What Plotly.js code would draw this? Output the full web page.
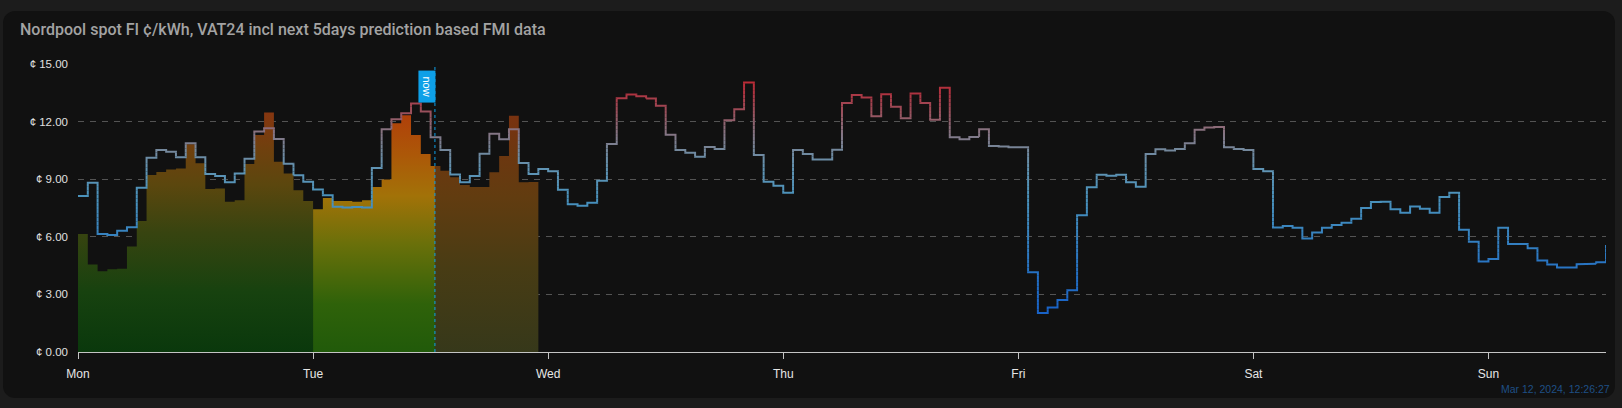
<!DOCTYPE html>
<html><head><meta charset="utf-8">
<script src="https://cdn.plot.ly/plotly-3.0.1.min.js"></script>
<style>
html,body{margin:0;padding:0;background:#1c1c1c;width:1622px;height:408px;overflow:hidden;}
#card{position:absolute;left:3px;top:11px;width:1612px;height:387px;background:#111111;border-radius:12px;}
#chart{position:absolute;left:0;top:0;width:1622px;height:408px;}
</style></head><body>
<div id="card"></div><div id="chart"></div>
<script>
// ---------- data ----------
const titleText = 'Nordpool spot FI ¢/kWh, VAT24 incl next 5days prediction based FMI data';
const dayLabels = ['Mon', 'Tue', 'Wed', 'Thu', 'Fri', 'Sat', 'Sun'];
const dayDates = ['2024-03-11', '2024-03-12', '2024-03-13', '2024-03-14', '2024-03-15', '2024-03-16', '2024-03-17'];
const rangeStart = '2024-03-11 00:00:00';
const rangeEnd = '2024-03-17 12:00:00';
const nowTime = '2024-03-12 12:26:27';
const stampText = 'Mar 12, 2024, 12:26:27';
const yTicks = [0, 3, 6, 9, 12, 15];
const yTickPrefix = '¢ ';

// Nordpool actual spot prices (hourly, c/kWh)
const priceMon = [6.15, 4.56, 4.21, 4.31, 4.33, 5.5, 6.82, 9.22, 9.37, 9.51, 9.56, 10.82, 9.83, 8.49, 8.52, 7.83, 7.91, 9.79, 11.3, 12.47, 9.91, 9.3, 8.42, 7.86];
const priceTue = [7.43, 8.02, 7.86, 7.86, 7.83, 7.9, 8.59, 8.99, 11.91, 12.33, 11.3, 10.31, 9.69, 9.44, 9.1, 8.7, 8.59, 8.59, 9.36, 10.21, 12.3, 8.84, 8.85, 8.85];

// FMI based prediction (hourly, c/kWh)
const predMon = [8.12, 8.82, 6.14, 6.1, 6.31, 6.5, 8.56, 10.12, 10.52, 10.43, 10.14, 10.87, 10.14, 9.27, 9.17, 8.84, 9.3, 10.07, 11.48, 11.65, 11.1, 9.81, 9.2, 8.87];
const predTue = [8.47, 8.16, 7.56, 7.52, 7.55, 7.52, 9.58, 11.6, 12.12, 12.43, 12.94, 12.52, 11.18, 10.52, 9.25, 8.84, 9.17, 10.33, 11.37, 11.08, 11.6, 9.85, 9.27, 9.53];
const predWed = [9.41, 8.45, 7.69, 7.62, 7.77, 8.92, 10.83, 13.22, 13.41, 13.32, 13.2, 12.82, 11.32, 10.52, 10.38, 10.17, 10.68, 10.57, 12.07, 12.64, 14.03, 10.26, 8.87, 8.66];
const predThu = [8.3, 10.52, 10.31, 10.03, 10.03, 10.54, 12.97, 13.39, 13.25, 12.28, 13.43, 12.77, 12.18, 13.46, 12.97, 12.09, 13.76, 11.18, 11.08, 11.2, 11.6, 10.73, 10.7, 10.66];
const predFri = [10.66, 4.16, 2.03, 2.32, 2.71, 3.22, 7.12, 8.58, 9.23, 9.18, 9.23, 8.84, 8.61, 10.31, 10.56, 10.49, 10.57, 10.87, 11.57, 11.69, 11.72, 10.66, 10.57, 10.52];
const predSat = [9.53, 9.41, 6.49, 6.56, 6.47, 5.91, 6.23, 6.47, 6.61, 6.73, 6.94, 7.5, 7.81, 7.82, 7.43, 7.25, 7.58, 7.46, 7.25, 8.07, 8.3, 6.37, 5.74, 4.71];
const predSun = [4.84, 6.47, 5.62, 5.63, 5.41, 4.77, 4.56, 4.4, 4.4, 4.57, 4.6, 4.68, 5.57];

// ---------- helpers ----------
const HOUR = 3600000;
const t0 = Date.parse(rangeStart.replace(' ', 'T') + 'Z');
const fmt = ms => new Date(ms).toISOString().replace('T', ' ').slice(0, 19);
const hourTime = h => fmt(t0 + h * HOUR);
const nowH = (Date.parse(nowTime.replace(' ', 'T') + 'Z') - t0) / HOUR;

const price = priceMon.concat(priceTue);
const pred = predMon.concat(predTue, predWed, predThu, predFri, predSat, predSun);

// ---------- area (actual prices) split: yesterday / today before now / after now ----------
const iNow = Math.floor(nowH);
function seg(hs, vs) { return { x: hs.map(hourTime), y: vs }; }
const hMon = [], vMon = [];
for (let h = 0; h <= 24; h++) { hMon.push(h); vMon.push(price[h]); }
const hAm = [], vAm = [];
for (let h = 24; h <= iNow; h++) { hAm.push(h); vAm.push(price[h]); }
hAm.push(nowH); vAm.push(price[iNow]);
const hPm = [nowH], vPm = [price[iNow]];
for (let h = iNow + 1; h < price.length; h++) { hPm.push(h); vPm.push(price[h]); }

const gradMon = [[0, '#0a380c'], [0.25, '#17420f'], [0.5, '#384410'], [0.7, '#5c470e'], [0.85, '#70400e'], [1, '#863610']];
const gradAm = [[0, '#215a0a'], [0.2, '#2f620a'], [0.45, '#6a700a'], [0.65, '#a27208'], [0.82, '#ac5808'], [1, '#b03e0a']];
const gradPm = [[0, '#36381a'], [0.35, '#483c14'], [0.65, '#623c10'], [0.82, '#6c3710'], [1, '#7a3210']];

function areaTrace(s, grad) {
  return {
    type: 'scatter', mode: 'lines', x: s.x, y: s.y,
    line: { shape: 'hv', width: 0, color: 'rgba(0,0,0,0)' },
    fill: 'tozeroy',
    fillgradient: { type: 'vertical', colorscale: grad, start: 0, stop: 12.5 },
    hoverinfo: 'skip', showlegend: false
  };
}
const traces = [
  areaTrace(seg(hMon, vMon), gradMon),
  areaTrace(seg(hAm, vAm), gradAm),
  areaTrace(seg(hPm, vPm), gradPm)
];

// ---------- prediction line with value-based gradient ----------
const lineStops = [[0, '#1560cc'], [2, '#1862c8'], [4, '#2470c4'], [6, '#3682c0'], [8, '#4a92bc'], [9.5, '#6094b4'], [10.5, '#74889c'], [11.5, '#88727f'], [12.5, '#9a505c'], [13.5, '#ae3340'], [14.5, '#c42830']];
function hex2rgb(h) { return [1, 3, 5].map(i => parseInt(h.substr(i, 2), 16)); }
function colorAt(v) {
  if (v <= lineStops[0][0]) return lineStops[0][1];
  for (let i = 1; i < lineStops.length; i++) {
    if (v <= lineStops[i][0]) {
      const a = lineStops[i - 1], b = lineStops[i];
      const f = (v - a[0]) / (b[0] - a[0]);
      const ca = hex2rgb(a[1]), cb = hex2rgb(b[1]);
      return 'rgb(' + ca.map((c, k) => Math.round(c + (cb[k] - c) * f)).join(',') + ')';
    }
  }
  return lineStops[lineStops.length - 1][1];
}
const STEP = 0.2;
const pts = [];
for (let i = 0; i < pred.length; i++) {
  pts.push([i, pred[i]]);
  if (i < pred.length - 1) pts.push([i + 1, pred[i]]);
}
const buckets = {};
let curK = null, cur = [];
function flush() {
  if (curK === null || cur.length < 2) return;
  if (!buckets[curK]) buckets[curK] = { x: [], y: [] };
  const b = buckets[curK];
  cur.forEach(p => { b.x.push(hourTime(p[0])); b.y.push(p[1]); });
  b.x.push(null); b.y.push(null);
}
function addPiece(a, b) {
  const k = Math.floor(((a[1] + b[1]) / 2) / STEP);
  if (k === curK) { cur.push(b); }
  else { flush(); curK = k; cur = [a, b]; }
}
for (let i = 0; i < pts.length - 1; i++) {
  const a = pts[i], b = pts[i + 1];
  if (a[1] === b[1] || a[0] !== b[0]) { addPiece(a, b); continue; }
  const lo = Math.min(a[1], b[1]), hi = Math.max(a[1], b[1]);
  const jLo = Math.floor(lo / STEP) + 1, jHi = Math.ceil(hi / STEP) - 1;
  const cuts = [];
  for (let j = jLo; j <= jHi; j++) { const c = j * STEP; if (c > lo + 1e-9 && c < hi - 1e-9) cuts.push(c); }
  if (b[1] < a[1]) cuts.reverse();
  const vals = [a[1]].concat(cuts, [b[1]]);
  for (let m = 0; m < vals.length - 1; m++) addPiece([a[0], vals[m]], [a[0], vals[m + 1]]);
}
flush();
Object.keys(buckets).forEach(k => {
  traces.push({
    type: 'scatter', mode: 'lines', x: buckets[k].x, y: buckets[k].y,
    line: { color: colorAt((+k + 0.5) * STEP), width: 2 },
    connectgaps: false, hoverinfo: 'skip', showlegend: false
  });
});

// ---------- layout ----------
const W = 1622, H = 408;
const layout = {
  width: W, height: H,
  margin: { l: 78, r: 16, t: 64, b: 56, pad: 0 },
  paper_bgcolor: 'rgba(0,0,0,0)', plot_bgcolor: 'rgba(0,0,0,0)',
  showlegend: false,
  title: {
    text: titleText, xref: 'container', yref: 'container',
    x: 20 / W, xanchor: 'left', y: 1 - 29.5 / H, yanchor: 'middle',
    font: { family: 'Roboto, sans-serif', size: 16, color: '#a3a3a3', weight: 500 }
  },
  xaxis: {
    type: 'date', range: [rangeStart, rangeEnd],
    tickmode: 'array', tickvals: dayDates, ticktext: dayLabels,
    showgrid: false, zeroline: false,
    showline: true, linecolor: '#c4c4c4', linewidth: 1,
    ticks: 'outside', ticklen: 6, tickcolor: '#c4c4c4', tickwidth: 1,
    ticklabelstandoff: 5,
    tickfont: { family: 'Liberation Sans, Arial, sans-serif', size: 12, color: '#e6e6e6' },
    fixedrange: true
  },
  yaxis: {
    range: [0, 15], tickmode: 'array', tickvals: yTicks,
    ticktext: yTicks.map(v => yTickPrefix + v.toFixed(2)),
    showgrid: true, gridcolor: '#545454', gridwidth: 1, griddash: '6px,6px',
    zeroline: false, showline: false, ticks: '',
    ticklabelstandoff: 9,
    tickfont: { family: 'Liberation Sans, Arial, sans-serif', size: 11.5, color: '#e0e0e0' },
    fixedrange: true
  },
  shapes: [{
    type: 'line', xref: 'x', yref: 'paper', x0: nowTime, x1: nowTime, y0: 0, y1: 1,
    line: { color: '#0ea0e8', width: 1, dash: 'dot' }
  }],
  annotations: [
    {
      text: 'now', xref: 'x', yref: 'paper', x: nowTime, y: 1,
      xanchor: 'right', yanchor: 'top', xshift: 1, yshift: -7,
      textangle: 90, showarrow: false,
      bgcolor: '#0ea0e8', bordercolor: '#0ea0e8', borderwidth: 0, borderpad: 2,
      width: 28, height: 13,
      font: { family: 'Liberation Sans, Arial, sans-serif', size: 11, color: '#ffffff' }
    },
    {
      text: stampText, xref: 'paper', yref: 'paper',
      x: (1611.7 - 78) / (W - 78 - 16), y: -(389 - 352) / (H - 64 - 56),
      xanchor: 'right', yanchor: 'middle', showarrow: false,
      font: { family: 'Liberation Sans, Arial, sans-serif', size: 10.5, color: '#1e4f85' }
    }
  ]
};
Plotly.newPlot('chart', traces, layout, { staticPlot: true, displayModeBar: false });
</script>
</body></html>
